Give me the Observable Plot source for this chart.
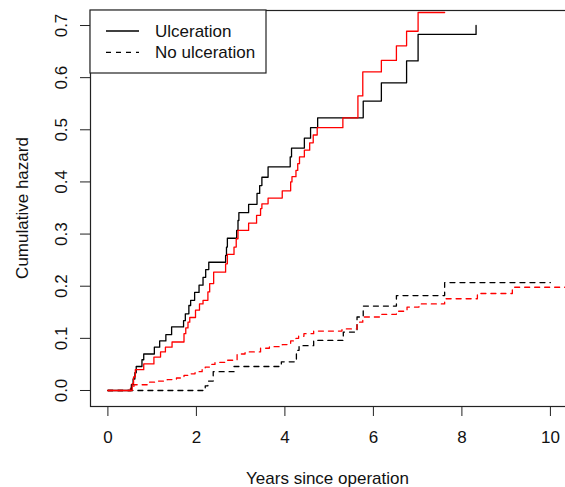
<!DOCTYPE html>
<html>
<head>
<meta charset="utf-8">
<script src="https://cdn.jsdelivr.net/npm/d3@7"></script>
<script src="https://cdn.jsdelivr.net/npm/@observablehq/plot@0.6"></script>
<style>
  html, body { margin: 0; padding: 0; background: #fff; overflow: hidden; }
  #wrap { width: 565px; height: 487px; overflow: hidden; position: relative; }
  #wrap svg { max-width: none !important; display: block; }
</style>
</head>
<body>
<div id="wrap"></div>
<script>
// ---- Data ----
// Ulceration, observed (Nelson-Aalen), black solid
const ulcObsTime = [0, 0.53, 0.57, 0.61, 0.64, 0.77, 0.81, 1.05, 1.17, 1.31, 1.44, 1.71, 1.75, 1.83, 1.87, 1.96, 2.06, 2.15, 2.21, 2.28, 2.66, 2.68, 2.70, 2.91, 2.94, 2.96, 3.18, 3.37, 3.43, 3.48, 3.62, 4.12, 4.15, 4.44, 4.58, 4.74, 5.77, 6.18, 6.75, 7.01, 8.32];
const ulcObsHaz  = [0, 0.011, 0.022, 0.034, 0.046, 0.059, 0.070, 0.083, 0.095, 0.107, 0.122, 0.134, 0.147, 0.163, 0.173, 0.188, 0.202, 0.217, 0.232, 0.246, 0.259, 0.275, 0.292, 0.307, 0.326, 0.341, 0.357, 0.378, 0.393, 0.409, 0.429, 0.448, 0.465, 0.484, 0.504, 0.523, 0.555, 0.590, 0.632, 0.683, 0.700];
// Ulceration, model estimate, red solid
const ulcFitTime = [0, 0.55, 0.58, 0.62, 0.81, 1.04, 1.19, 1.30, 1.45, 1.72, 1.76, 1.81, 1.85, 1.98, 2.07, 2.15, 2.26, 2.30, 2.39, 2.66, 2.70, 2.85, 2.90, 2.94, 3.18, 3.36, 3.45, 3.48, 3.62, 3.94, 4.13, 4.16, 4.25, 4.29, 4.33, 4.44, 4.56, 4.64, 4.73, 5.31, 5.65, 5.76, 6.18, 6.52, 6.75, 7.01, 7.61];
const ulcFitHaz  = [0, 0.013, 0.026, 0.040, 0.051, 0.064, 0.074, 0.083, 0.093, 0.109, 0.120, 0.131, 0.140, 0.154, 0.166, 0.173, 0.189, 0.205, 0.227, 0.243, 0.261, 0.275, 0.291, 0.307, 0.321, 0.336, 0.349, 0.358, 0.369, 0.383, 0.400, 0.410, 0.422, 0.435, 0.448, 0.461, 0.475, 0.490, 0.504, 0.523, 0.565, 0.611, 0.633, 0.661, 0.689, 0.725, 0.725];
// No ulceration, observed, black dashed
const noObsTime = [0, 2.20, 2.26, 2.38, 2.85, 3.92, 4.26, 4.32, 4.65, 5.32, 5.63, 5.77, 6.52, 7.61, 10.0];
const noObsHaz  = [0, 0.009, 0.018, 0.036, 0.046, 0.055, 0.077, 0.086, 0.096, 0.112, 0.141, 0.162, 0.182, 0.207, 0.207];
// No ulceration, model estimate, red dashed
const noFitTime = [0, 0.51, 0.59, 0.89, 1.11, 1.34, 1.55, 1.72, 1.85, 1.97, 2.13, 2.20, 2.32, 2.42, 2.66, 2.92, 3.10, 3.45, 3.65, 3.94, 4.13, 4.25, 4.31, 4.43, 4.65, 5.29, 5.63, 5.76, 6.18, 6.52, 6.76, 7.03, 7.61, 8.35, 9.14, 11.0];
const noFitHaz  = [0, 0.008, 0.011, 0.016, 0.018, 0.021, 0.024, 0.029, 0.032, 0.036, 0.040, 0.045, 0.050, 0.054, 0.058, 0.070, 0.074, 0.081, 0.084, 0.088, 0.095, 0.100, 0.104, 0.109, 0.114, 0.118, 0.131, 0.141, 0.146, 0.152, 0.160, 0.166, 0.176, 0.186, 0.198, 0.198];

const xTicks = [0, 2, 4, 6, 8, 10];
const yTicks = [0, 0.1, 0.2, 0.3, 0.4, 0.5, 0.6, 0.7];
const legendLabels = ["Ulceration", "No ulceration"];

const toRows = (t, h) => t.map((d, i) => ({t: d, h: h[i]}));

const FONT = 17;
const DASH = "5,5";
const W = 600, H = 487;
const mL = 90, mR = 0, mT = 10, mB = 81;

const plot = Plot.plot({
  width: W,
  height: H,
  marginLeft: mL,
  marginRight: mR,
  marginTop: mT,
  marginBottom: mB,
  style: {fontSize: FONT + "px", fontFamily: "'Liberation Sans', Arial, sans-serif", color: "#111", background: "#fff", maxWidth: "none"},
  x: {domain: [-0.393, 11.132]},
  y: {domain: [-0.0307, 0.7288]},
  marks: [
    Plot.axisX({ticks: xTicks, tickSize: 10, tickPadding: 14, tickFormat: d => String(d), label: null, stroke: "#222"}),
    Plot.axisY({ticks: yTicks, tickSize: 10, tickPadding: 14, tickRotate: -90, tickFormat: d => d.toFixed(1), label: null, stroke: "#222"}),
    Plot.line(toRows(noObsTime, noObsHaz), {x: "t", y: "h", curve: "step-after", stroke: "#000", strokeWidth: 1.3, strokeDasharray: DASH}),
    Plot.line(toRows(noFitTime, noFitHaz), {x: "t", y: "h", curve: "step-after", stroke: "#ff0000", strokeWidth: 1.3, strokeDasharray: DASH}),
    Plot.line(toRows(ulcObsTime, ulcObsHaz), {x: "t", y: "h", curve: "step-after", stroke: "#000", strokeWidth: 1.3}),
    Plot.line(toRows(ulcFitTime, ulcFitHaz), {x: "t", y: "h", curve: "step-after", stroke: "#ff0000", strokeWidth: 1.3}),
    Plot.frame({stroke: "#222", strokeWidth: 1.2})
  ]
});

document.getElementById("wrap").appendChild(plot);

// Axis titles and legend
const svg = d3.select(plot);
svg.append("text")
  .attr("x", (mL + 565) / 2).attr("y", 478)
  .attr("text-anchor", "middle").attr("dominant-baseline", "central")
  .attr("font-size", FONT).attr("fill", "#111")
  .text("Years since operation");
svg.append("text")
  .attr("transform", `translate(22,${(mT + (H - mB)) / 2}) rotate(-90)`)
  .attr("text-anchor", "middle").attr("dominant-baseline", "central")
  .attr("font-size", FONT).attr("fill", "#111")
  .text("Cumulative hazard");

const lg = svg.append("g");
lg.append("rect").attr("x", mL).attr("y", mT).attr("width", 176).attr("height", 63)
  .attr("fill", "#fff").attr("stroke", "#222").attr("stroke-width", 1.2);
const dashes = [null, DASH];
legendLabels.forEach((lab, i) => {
  const yy = 31 + i * 21.3;
  lg.append("line").attr("x1", 106).attr("x2", 139).attr("y1", yy).attr("y2", yy)
    .attr("stroke", "#000").attr("stroke-width", 1.3)
    .attr("stroke-dasharray", dashes[i]);
  lg.append("text").attr("x", 155).attr("y", yy)
    .attr("text-anchor", "start")
    .attr("dominant-baseline", "central").attr("font-size", FONT).attr("fill", "#111")
    .text(lab);
});
</script>
</body>
</html>
